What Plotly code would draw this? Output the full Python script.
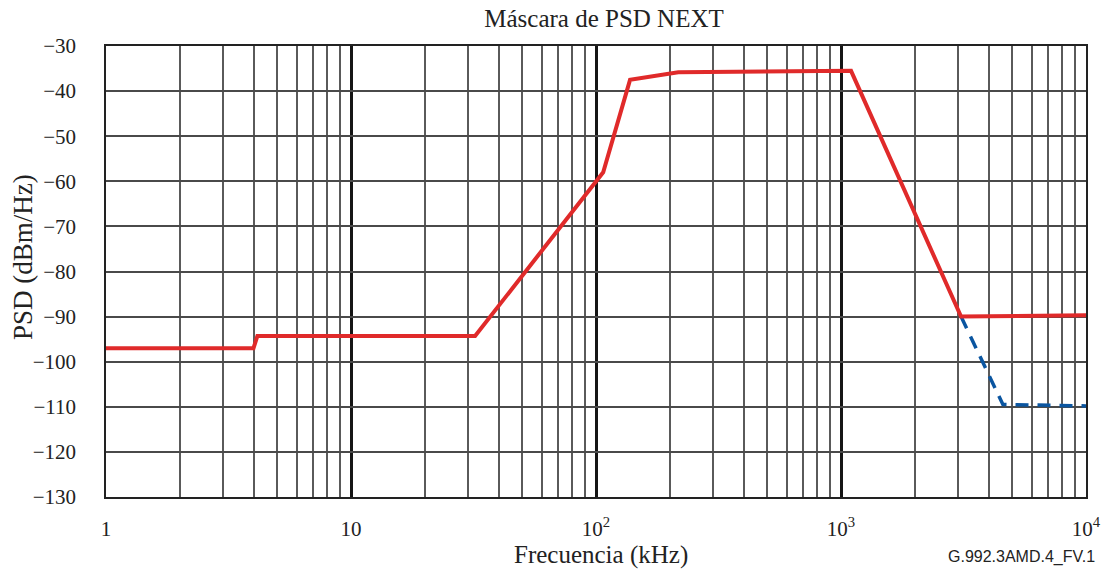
import plotly.graph_objects as go

# Data
red_f = [1, 4.0, 4.15, 32.1, 107, 137.7, 216.7, 1099, 3090, 10000]
red_psd = [-97, -97, -94.3, -94.3, -58, -37.5, -35.8, -35.5, -90, -89.7]
blue_f = [3090, 4580, 10000]
blue_psd = [-90, -109.5, -109.8]

xtick_vals = [1, 10, 100, 1000, 10000]
xtick_text = ["1", "10", "10<sup>2</sup>", "10<sup>3</sup>", "10<sup>4</sup>"]
ytick_vals = list(range(-130, -29, 10))
ytick_text = [("\u2212" + str(-v)) for v in ytick_vals]

serif = "Liberation Serif"
W, H = 1103, 569
L, R, T, B = 106, 17, 46, 72
PW, PH = W - L - R, H - T - B

fig = go.Figure()
fig.add_trace(go.Scatter(x=blue_f, y=blue_psd, mode="lines",
                         line=dict(color="#0a55a0", width=3.5, dash="13px,9px"),
                         showlegend=False, hoverinfo="skip"))
fig.add_trace(go.Scatter(x=red_f, y=red_psd, mode="lines",
                         line=dict(color="#e02a2a", width=4),
                         showlegend=False, hoverinfo="skip"))

fig.update_layout(
    width=W, height=H,
    margin=dict(l=L, r=R, t=T, b=B, autoexpand=False),
    paper_bgcolor="white", plot_bgcolor="white",
    title=dict(text="Máscara de PSD NEXT", x=(604 - L) / PW, xref="paper", xanchor="center",
               y=1 - 18 / H, yanchor="middle",
               font=dict(family=serif, size=25, color="#222")),
    xaxis=dict(type="log", range=[0, 4], automargin=False,
               tickvals=xtick_vals, ticktext=xtick_text,
               showgrid=True, gridcolor="#151515", gridwidth=2.5,
               minor=dict(dtick="D1", showgrid=True, gridcolor="#5a5a5a", gridwidth=1.5, ticks=""),
               ticks="", ticklabelstandoff=12,
               showline=True, linecolor="#222", linewidth=1.5, mirror=True,
               tickfont=dict(family=serif, size=21, color="#222"),
               zeroline=False),
    yaxis=dict(range=[-130, -30], tickvals=ytick_vals, ticktext=ytick_text, automargin=False,
               showgrid=True, gridcolor="#4a4a4a", gridwidth=1.5,
               ticks="", ticklabelstandoff=24,
               showline=True, linecolor="#222", linewidth=1.5, mirror=True,
               tickfont=dict(family=serif, size=21, color="#222"),
               zeroline=False),
)

# axis titles placed as annotations to match the reference positions
fig.add_annotation(text="Frecuencia (kHz)", xref="paper", yref="paper",
                   x=(601 - L) / PW, y=-(555 - (T + PH)) / PH, xanchor="center", yanchor="middle",
                   showarrow=False, font=dict(family=serif, size=25, color="#222"))
fig.add_annotation(text="PSD (dBm/Hz)", xref="paper", yref="paper", textangle=-90,
                   x=(23 - L) / PW, y=1 - (257 - T) / PH, xanchor="center", yanchor="middle",
                   showarrow=False, font=dict(family=serif, size=27, color="#222"))
fig.add_annotation(text="G.992.3AMD.4_FV.1", xref="paper", yref="paper",
                   x=(1097 - L) / PW, y=-(557 - (T + PH)) / PH, xanchor="right", yanchor="middle",
                   showarrow=False, font=dict(family="Liberation Sans", size=16, color="#222"))

fig.write_html("out.html", config={"displayModeBar": False},
               post_script="document.body.style.margin='0';document.body.style.overflow='hidden';")
